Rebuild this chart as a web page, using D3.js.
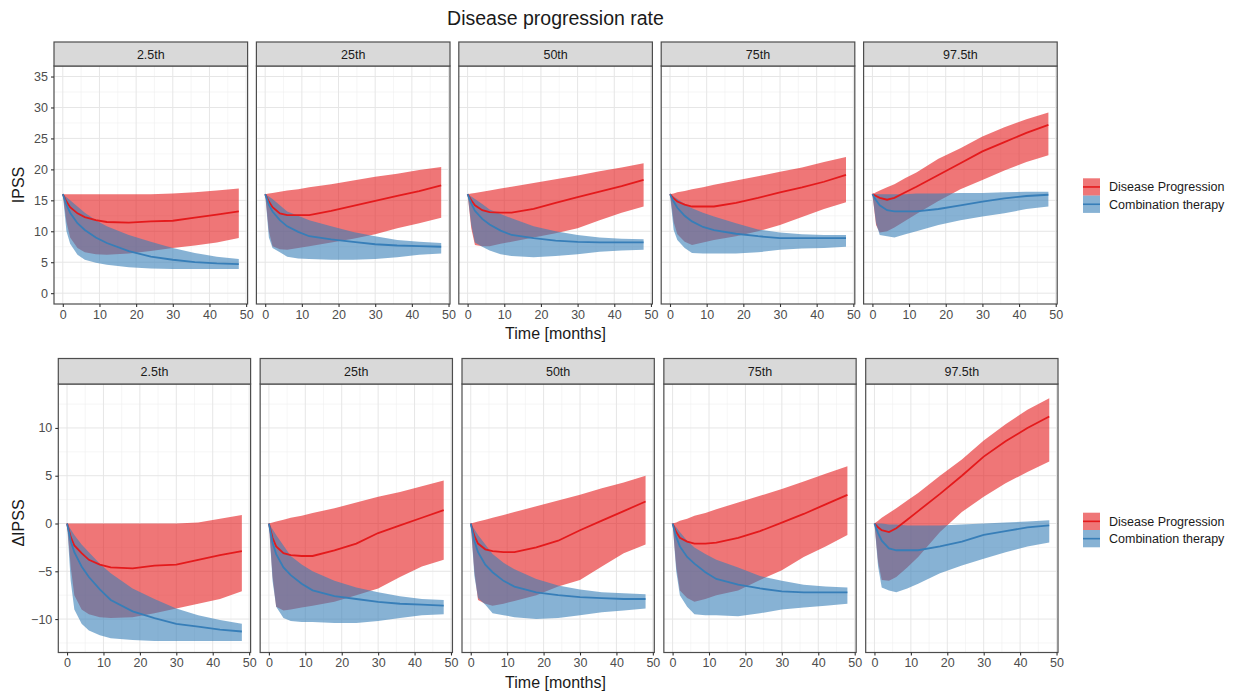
<!DOCTYPE html>
<head>
    <meta charset="utf-8">
    <script src="https://cdn.jsdelivr.net/npm/d3@7"></script>
    <style>
        body { margin: 0; background: #fff; }
        text { font-family: "Liberation Sans", Arial, sans-serif; }
    </style>
</head>

<body>
<script>

    var months = [0, 1, 2, 4, 6, 9, 12, 18, 24, 30, 36, 42, 48];
    var percentiles = ["2.5th", "25th", "50th", "75th", "97.5th"];
    var seriesNames = ["Disease Progression", "Combination therapy"];
    var xTicks = [0, 10, 20, 30, 40, 50];
    var ipssTicks = [0, 5, 10, 15, 20, 25, 30, 35];
    var dIpssTicks = [-10, -5, 0, 5, 10];

    // IPSS, disease progression (median, lower, upper) per percentile
    var ipssDP = [
        [16, 14.8, 13.9, 12.9, 12.3, 11.8, 11.5, 11.4, 11.6, 11.7, 12.2, 12.7, 13.2],
        [16, 14.8, 13.9, 12.9, 12.6, 12.6, 12.6, 13.3, 14.1, 14.9, 15.7, 16.5, 17.4],
        [16, 15.0, 14.2, 13.4, 13.1, 13.0, 13.0, 13.6, 14.6, 15.5, 16.4, 17.3, 18.3],
        [16, 15.3, 14.8, 14.3, 14.0, 14.0, 14.0, 14.6, 15.4, 16.3, 17.1, 18.0, 19.1],
        [16, 15.7, 15.4, 15.1, 15.4, 16.3, 17.2, 19.1, 21.0, 22.9, 24.4, 25.9, 27.2]
    ];
    var ipssDPLo = [
        [16, 11.5, 9.0, 7.3, 6.6, 6.3, 6.2, 6.4, 6.8, 7.3, 7.7, 8.2, 8.9],
        [16, 10.0, 7.6, 7.1, 7.0, 7.3, 7.6, 8.2, 8.8, 9.5, 10.5, 11.3, 12.2],
        [16, 10.5, 7.8, 7.6, 7.6, 8.0, 8.3, 9.0, 9.7, 10.5, 11.8, 13.0, 14.0],
        [16, 11.5, 9.5, 8.3, 7.8, 8.2, 8.6, 9.2, 10.0, 11.0, 12.3, 13.6, 14.7],
        [16, 11.0, 9.8, 10.0, 10.6, 11.7, 12.8, 14.9, 16.8, 18.3, 19.8, 21.2, 22.3]
    ];
    var ipssDPHi = [
        [16, 16, 16, 16, 16, 16, 16, 16, 16, 16.1, 16.3, 16.6, 16.9],
        [16, 16.1, 16.2, 16.4, 16.6, 16.8, 17.1, 17.6, 18.2, 18.8, 19.3, 19.9, 20.4],
        [16, 16.1, 16.2, 16.4, 16.6, 16.9, 17.2, 17.8, 18.4, 19.0, 19.7, 20.3, 21.0],
        [16, 16.1, 16.3, 16.5, 16.8, 17.1, 17.5, 18.2, 18.9, 19.6, 20.3, 21.2, 22.0],
        [16, 16.3, 16.6, 17.1, 17.6, 18.6, 19.5, 21.7, 23.4, 25.3, 26.8, 28.1, 29.2]
    ];

    // IPSS, combination therapy
    var ipssCT = [
        [16, 14.3, 13.0, 11.3, 10.2, 9.0, 8.1, 6.8, 5.9, 5.4, 5.0, 4.8, 4.7],
        [16, 14.3, 13.2, 11.8, 10.8, 9.9, 9.2, 8.7, 8.3, 7.9, 7.7, 7.6, 7.5],
        [16, 14.5, 13.3, 12.0, 11.1, 10.1, 9.4, 8.9, 8.5, 8.3, 8.2, 8.2, 8.2],
        [16, 14.8, 13.8, 12.5, 11.6, 10.7, 10.2, 9.6, 9.2, 8.9, 8.9, 8.9, 8.9],
        [16, 15.0, 14.2, 13.4, 13.2, 13.2, 13.2, 13.6, 14.2, 14.8, 15.3, 15.7, 15.9]
    ];
    var ipssCTLo = [
        [16, 10.0, 8.0, 6.2, 5.4, 4.9, 4.6, 4.2, 4.0, 3.9, 3.9, 3.9, 3.9],
        [16, 9.0, 7.3, 6.6, 5.9, 5.6, 5.5, 5.4, 5.4, 5.5, 5.8, 6.2, 6.4],
        [16, 11.0, 8.2, 7.5, 6.9, 6.3, 6.0, 5.8, 6.0, 6.3, 6.7, 6.9, 7.0],
        [16, 10.2, 8.6, 7.3, 6.5, 6.4, 6.4, 6.4, 6.6, 7.0, 7.2, 7.3, 7.5],
        [16, 11.3, 9.4, 9.2, 9.0, 9.5, 10.0, 11.0, 11.8, 12.4, 12.9, 13.6, 14.0]
    ];
    var ipssCTHi = [
        [16, 15.5, 15.0, 14.0, 13.0, 11.8, 10.8, 9.4, 8.3, 7.3, 6.5, 5.9, 5.5],
        [16, 15.6, 15.2, 14.2, 13.2, 12.5, 11.8, 10.8, 9.9, 9.2, 8.6, 8.3, 8.1],
        [16, 15.6, 15.2, 14.4, 13.5, 12.8, 12.1, 10.8, 10.0, 9.4, 9.0, 8.8, 8.7],
        [16, 15.6, 15.2, 14.4, 13.7, 13.0, 12.4, 11.3, 10.3, 9.8, 9.5, 9.4, 9.4],
        [16, 16, 16, 16, 16, 16, 16.1, 16.1, 16.2, 16.2, 16.3, 16.4, 16.4]
    ];

    // change from baseline, disease progression
    var dIpssDP = [
        [0, -1.4, -2.3, -3.1, -3.8, -4.3, -4.6, -4.7, -4.4, -4.3, -3.8, -3.3, -2.9],
        [0, -1.5, -2.4, -3.1, -3.3, -3.4, -3.4, -2.8, -2.1, -1.0, -0.2, 0.6, 1.4],
        [0, -1.3, -2.1, -2.7, -2.9, -3.0, -3.0, -2.5, -1.8, -0.7, 0.3, 1.3, 2.3],
        [0, -0.9, -1.5, -1.9, -2.1, -2.1, -2.0, -1.5, -0.8, 0.1, 1.0, 2.0, 3.0],
        [0, -0.4, -0.7, -0.9, -0.5, 0.4, 1.3, 3.1, 5.0, 7.0, 8.6, 10.0, 11.2]
    ];
    var dIpssDPLo = [
        [0, -4.5, -7.5, -9.0, -9.5, -9.8, -9.9, -9.8, -9.4, -8.9, -8.4, -7.9, -7.1],
        [0, -5.5, -8.7, -9.1, -9.0, -8.8, -8.6, -8.2, -7.5, -6.8, -5.6, -4.5, -3.8],
        [0, -5.0, -8.0, -8.4, -8.6, -8.4, -8.1, -7.5, -6.6, -5.9, -4.5, -3.1, -2.2],
        [0, -4.5, -7.0, -7.8, -8.2, -7.9, -7.5, -7.0, -5.9, -4.9, -3.5, -2.4, -1.2],
        [0, -4.0, -5.9, -6.0, -5.6, -4.6, -3.5, -0.9, 1.2, 2.8, 4.2, 5.4, 6.5]
    ];
    var dIpssDPHi = [
        [0, 0, 0, 0, 0, 0, 0, 0, 0, 0, 0.1, 0.5, 0.9],
        [0, 0.1, 0.2, 0.4, 0.6, 0.8, 1.1, 1.6, 2.2, 2.8, 3.3, 3.9, 4.5],
        [0, 0.1, 0.2, 0.4, 0.6, 0.9, 1.2, 1.8, 2.4, 3.0, 3.7, 4.3, 5.0],
        [0, 0.1, 0.3, 0.5, 0.8, 1.1, 1.5, 2.2, 2.9, 3.6, 4.4, 5.2, 6.0],
        [0, 0.3, 0.6, 1.1, 1.6, 2.4, 3.2, 5.0, 6.7, 8.7, 10.4, 11.9, 13.1]
    ];

    // change from baseline, combination therapy
    var dIpssCT = [
        [0, -1.8, -3.0, -4.5, -5.6, -6.9, -8.0, -9.2, -9.9, -10.5, -10.8, -11.1, -11.3],
        [0, -2.0, -3.2, -4.6, -5.4, -6.3, -7.0, -7.6, -7.9, -8.2, -8.4, -8.5, -8.6],
        [0, -1.8, -3.0, -4.3, -5.1, -6.0, -6.6, -7.2, -7.5, -7.7, -7.8, -7.9, -7.9],
        [0, -1.4, -2.4, -3.5, -4.2, -5.1, -5.8, -6.4, -6.8, -7.1, -7.2, -7.2, -7.2],
        [0, -1.0, -1.8, -2.6, -2.8, -2.8, -2.8, -2.4, -1.9, -1.2, -0.8, -0.4, -0.2]
    ];
    var dIpssCTLo = [
        [0, -6.0, -9.0, -10.5, -11.2, -11.7, -12.0, -12.2, -12.3, -12.3, -12.3, -12.3, -12.3],
        [0, -6.0, -8.7, -9.9, -10.2, -10.3, -10.3, -10.4, -10.4, -10.2, -9.9, -9.6, -9.5],
        [0, -5.5, -7.8, -8.5, -9.4, -9.6, -9.8, -10.0, -9.9, -9.6, -9.3, -9.1, -8.9],
        [0, -5.0, -7.5, -8.7, -9.5, -9.6, -9.6, -9.7, -9.4, -9.0, -8.8, -8.6, -8.4],
        [0, -4.5, -6.7, -7.0, -7.2, -6.8, -6.3, -5.2, -4.4, -3.7, -3.0, -2.4, -2.0]
    ];
    var dIpssCTHi = [
        [0, -0.6, -1.2, -2.2, -3.0, -4.2, -5.2, -6.8, -7.9, -8.9, -9.6, -10.1, -10.5],
        [0, -0.6, -1.2, -2.3, -3.4, -4.3, -5.0, -6.0, -6.7, -7.2, -7.6, -7.9, -8.0],
        [0, -0.6, -1.2, -2.2, -3.2, -4.1, -4.8, -5.8, -6.5, -6.9, -7.2, -7.3, -7.4],
        [0, -0.4, -0.9, -1.8, -2.5, -3.2, -3.8, -4.6, -5.5, -6.0, -6.4, -6.6, -6.7],
        [0, 0, 0, -0.1, -0.1, -0.2, -0.2, -0.2, -0.1, 0.0, 0.1, 0.2, 0.35]
    ];

    var red = "#e41a1c", blue = "#377eb8";

    var svg = d3.select("body").append("svg")
        .attr("width", 1236)
        .attr("height", 693);

    svg.append("text")
        .attr("x", 555.5).attr("y", 25)
        .attr("text-anchor", "middle")
        .style("font-size", "19.5px")
        .style("fill", "#1a1a1a")
        .text("Disease progression rate");

    function drawRow(cfg) {
        var h = cfg.bottom - cfg.top;
        var x = d3.scaleLinear().domain([-2.4, 50.4]).range([0, cfg.w]);
        var y = d3.scaleLinear().domain(cfg.yDomain).range([h, 0]);

        var band = d3.area()
            .x(function(d) { return x(d.t); })
            .y0(function(d) { return y(d.lo); })
            .y1(function(d) { return y(d.hi); });
        var line = d3.line()
            .x(function(d) { return x(d.t); })
            .y(function(d) { return y(d.v); });

        percentiles.forEach(function(p, i) {
            var g = svg.append("g")
                .attr("transform", "translate(" + (cfg.left + i * cfg.step) + "," + cfg.top + ")");

            // grid
            var xMinor = d3.range(5, 50, 10);
            g.selectAll(".xminor").data(xMinor).enter().append("line")
                .attr("x1", x).attr("x2", x).attr("y1", 0).attr("y2", h)
                .attr("stroke", "#f0f0f0").attr("stroke-width", 0.6);
            g.selectAll(".yminor").data(cfg.minor).enter().append("line")
                .attr("y1", y).attr("y2", y).attr("x1", 0).attr("x2", cfg.w)
                .attr("stroke", "#f0f0f0").attr("stroke-width", 0.6);
            g.selectAll(".xmajor").data(xTicks).enter().append("line")
                .attr("x1", x).attr("x2", x).attr("y1", 0).attr("y2", h)
                .attr("stroke", "#e6e6e6").attr("stroke-width", 1);
            g.selectAll(".ymajor").data(cfg.ticks).enter().append("line")
                .attr("y1", y).attr("y2", y).attr("x1", 0).attr("x2", cfg.w)
                .attr("stroke", "#e6e6e6").attr("stroke-width", 1);

            var sets = [
                { col: red, v: cfg.dp[i], lo: cfg.dpLo[i], hi: cfg.dpHi[i] },
                { col: blue, v: cfg.ct[i], lo: cfg.ctLo[i], hi: cfg.ctHi[i] }
            ];
            sets.forEach(function(s) {
                var pts = months.map(function(t, j) { return { t: t, lo: s.lo[j], hi: s.hi[j] }; });
                g.append("path").datum(pts)
                    .attr("d", band)
                    .attr("fill", s.col)
                    .attr("fill-opacity", 0.6);
            });
            sets.forEach(function(s) {
                var pts = months.map(function(t, j) { return { t: t, v: s.v[j] }; });
                g.append("path").datum(pts)
                    .attr("d", line)
                    .attr("fill", "none")
                    .attr("stroke", s.col)
                    .attr("stroke-width", 1.8);
            });

            // panel border
            g.append("rect")
                .attr("width", cfg.w).attr("height", h)
                .attr("fill", "none").attr("stroke", "#4d4d4d").attr("stroke-width", 1.2);

            // strip
            g.append("rect")
                .attr("y", -cfg.stripH).attr("width", cfg.w).attr("height", cfg.stripH)
                .attr("fill", "#d9d9d9").attr("stroke", "#4d4d4d").attr("stroke-width", 1.2);
            g.append("text")
                .attr("x", cfg.w / 2).attr("y", -cfg.stripH / 2 + 4.5)
                .attr("text-anchor", "middle")
                .style("font-size", "12.5px").style("fill", "#1a1a1a")
                .text(p);

            // x axis
            var xa = g.append("g").attr("transform", "translate(0," + h + ")")
                .call(d3.axisBottom(x).tickValues(xTicks).tickSize(3).tickPadding(3));
            styleAxis(xa);

            if (i === 0) {
                var ya = g.append("g")
                    .call(d3.axisLeft(y).tickValues(cfg.ticks).tickSize(3).tickPadding(3));
                styleAxis(ya);
            }
        });

        svg.append("text")
            .attr("x", 555.5).attr("y", cfg.xTitleY)
            .attr("text-anchor", "middle")
            .style("font-size", "16px").style("fill", "#1a1a1a")
            .text("Time [months]");

        svg.append("text")
            .attr("transform", "translate(24," + cfg.yTitleY + ") rotate(-90)")
            .attr("text-anchor", "middle")
            .style("font-size", "16px").style("fill", "#1a1a1a")
            .text(cfg.yTitle);

        // legend
        var lg = svg.append("g").attr("transform", "translate(1083," + cfg.legendY + ")");
        [red, blue].forEach(function(c, k) {
            var row = lg.append("g").attr("transform", "translate(0," + (k * 17.3) + ")");
            row.append("rect").attr("width", 17).attr("height", 17.3)
                .attr("fill", c).attr("fill-opacity", 0.6);
            row.append("line").attr("x1", 0).attr("x2", 17).attr("y1", 8.65).attr("y2", 8.65)
                .attr("stroke", c).attr("stroke-width", 1.6);
            row.append("text").attr("x", 26).attr("y", 13)
                .style("font-size", "12.5px").style("fill", "#1a1a1a")
                .text(seriesNames[k]);
        });
    }

    function styleAxis(a) {
        a.select(".domain").remove();
        a.selectAll(".tick line").attr("stroke", "#333").attr("stroke-width", 1.1);
        a.selectAll(".tick text").style("font-size", "12.5px").style("fill", "#4d4d4d")
            .style("font-family", "'Liberation Sans', Arial, sans-serif");
    }

    drawRow({
        left: 54, w: 193.6, step: 202.4, top: 66, bottom: 304, stripH: 24,
        yDomain: [-1.75, 36.7], ticks: ipssTicks, minor: d3.range(2.5, 36, 5),
        dp: ipssDP, dpLo: ipssDPLo, dpHi: ipssDPHi,
        ct: ipssCT, ctLo: ipssCTLo, ctHi: ipssCTHi,
        xTitleY: 339, yTitle: "IPSS", yTitleY: 185, legendY: 178.3
    });

    drawRow({
        left: 58.3, w: 192.3, step: 201.85, top: 384, bottom: 652.5, stripH: 25.5,
        yDomain: [-13.5, 14.6], ticks: dIpssTicks, minor: [-12.5, -7.5, -2.5, 2.5, 7.5, 12.5],
        dp: dIpssDP, dpLo: dIpssDPLo, dpHi: dIpssDPHi,
        ct: dIpssCT, ctLo: dIpssCTLo, ctHi: dIpssCTHi,
        xTitleY: 687.5, yTitle: "\u0394IPSS", yTitleY: 523, legendY: 512.7
    });

</script>
</body>
